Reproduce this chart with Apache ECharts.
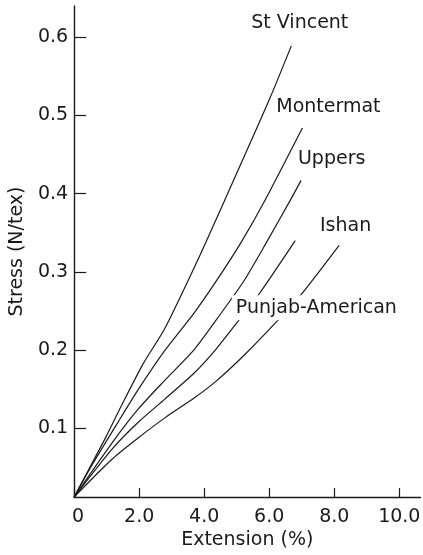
<!DOCTYPE html>
<html>
<head>
<meta charset="utf-8">
<script src="https://cdn.jsdelivr.net/npm/echarts@6/dist/echarts.min.js"></script>
<style>
  html, body { margin: 0; padding: 0; background: #fff; }
  #chart { width: 423px; height: 555px; }
</style>
</head>
<body>
<div id="chart"></div>
<script>
// Stress–extension curves for five cotton varieties.
// Each curve: [extension (%), stress (N/tex)]
const stVincent = [[0, 0.012], [0.98, 0.089], [1.48, 0.131], [2.13, 0.183], [2.78, 0.227], [3.70, 0.306], [4.00, 0.333], [5.00, 0.426], [6.00, 0.520], [6.68, 0.589]];
const montermat = [[0, 0.012], [0.55, 0.053], [1.28, 0.103], [1.98, 0.150], [2.78, 0.199], [3.70, 0.248], [4.40, 0.290], [5.14, 0.338], [5.85, 0.390], [7.02, 0.484]];
const uppers = [[0, 0.012], [1.18, 0.082], [1.98, 0.125], [2.78, 0.161], [3.70, 0.201], [4.36, 0.238], [5.20, 0.287], [5.92, 0.338], [6.68, 0.394], [6.98, 0.417]];
const ishan = [[0, 0.012], [1.18, 0.074], [1.98, 0.108], [2.78, 0.137], [3.70, 0.171], [4.36, 0.201], [5.10, 0.240], [5.71, 0.273], [6.80, 0.340]];
const punjabAmerican = [[0, 0.012], [1.18, 0.061], [1.98, 0.088], [2.78, 0.113], [3.70, 0.139], [4.36, 0.160], [5.29, 0.196], [6.22, 0.236], [6.98, 0.271], [8.15, 0.334]];

const seriesNames = ['St Vincent', 'Montermat', 'Uppers', 'Ishan', 'Punjab-American'];
const seriesData = [stVincent, montermat, uppers, ishan, punjabAmerican];

// Curve name labels, anchored in data coordinates
const labelNames = ['St Vincent', 'Montermat', 'Uppers', 'Ishan', 'Punjab-American'];
const labelAnchors = [[6.94, 0.618], [7.82, 0.511], [7.92, 0.444], [8.35, 0.358], [7.45, 0.254]];

const yTicks = [0.1, 0.2, 0.3, 0.4, 0.5, 0.6];

const ink = '#1a1a1a';
const font = 'DejaVu Sans';

const chart = echarts.init(document.getElementById('chart'), null, { renderer: 'canvas' });

const lineSeries = seriesNames.map((name, i) => ({
  name: name,
  type: 'line',
  data: seriesData[i],
  smooth: 0.25,
  showSymbol: false,
  symbol: 'none',
  lineStyle: { color: ink, width: 1.2 },
  z: 2,
  silent: true
}));

const labelSeries = {
  type: 'scatter',
  data: labelAnchors.map((p, i) => ({ value: p, name: labelNames[i] })),
  symbolSize: 0,
  itemStyle: { opacity: 1 },
  z: 10,
  silent: true,
  label: {
    show: true,
    position: 'inside',
    formatter: p => p.name,
    fontFamily: font,
    fontSize: 19,
    color: ink,
    opacity: 1,
    backgroundColor: '#ffffff',
    padding: [3, 4]
  }
};

chart.setOption({
  animation: false,
  backgroundColor: '#fff',
  grid: { left: 67, right: 1, top: 6, bottom: 57, containLabel: false },
  xAxis: {
    type: 'value',
    min: 0,
    max: 10.65,
    interval: 2,
    name: 'Extension (%)',
    nameLocation: 'middle',
    nameGap: 31,
    nameTextStyle: { fontFamily: font, fontSize: 19, color: ink },
    axisLine: { show: true, onZero: false, lineStyle: { color: ink, width: 1.4 } },
    axisTick: { show: true, inside: true, length: 9, lineStyle: { color: ink, width: 1.2 } },
    axisLabel: {
      margin: 10,
      fontFamily: font,
      fontSize: 19,
      color: ink,
      showMaxLabel: false,
      formatter: v => (v === 0 ? '{z|0}' : v.toFixed(1)),
      rich: { z: { fontFamily: font, fontSize: 19, color: ink, padding: [0, 0, 0, 8] } }
    },
    splitLine: { show: false }
  },
  yAxis: {
    type: 'value',
    min: 0.012,
    max: 0.64,
    name: 'Stress (N/tex)',
    nameLocation: 'middle',
    nameGap: 44,
    nameTextStyle: { fontFamily: font, fontSize: 19, color: ink },
    axisLine: { show: true, onZero: false, lineStyle: { color: ink, width: 1.4 } },
    axisTick: { show: true, inside: true, length: 12, customValues: yTicks, lineStyle: { color: ink, width: 1.2 } },
    axisLabel: {
      margin: 6,
      fontFamily: font,
      fontSize: 19,
      color: ink,
      customValues: yTicks,
      formatter: v => v.toFixed(1)
    },
    splitLine: { show: false }
  },
  series: lineSeries.concat([labelSeries])
});
</script>
</body>
</html>
